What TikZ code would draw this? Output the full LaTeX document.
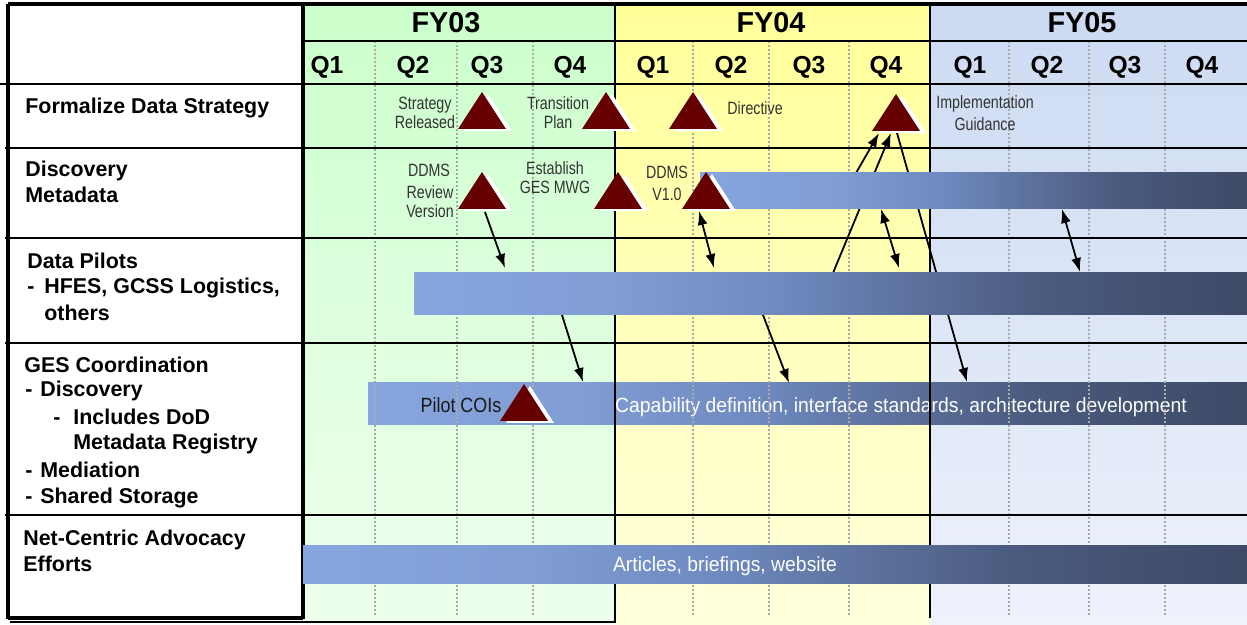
\documentclass[tikz,border=0pt]{standalone}
\usepackage{fontspec}
\setmainfont{Liberation Sans}
\newfontfamily\narrowfont[FakeStretch=0.80]{Liberation Sans}
\newfontfamily\barfont[FakeStretch=0.94]{Liberation Sans}
\newfontfamily\coifont[FakeStretch=0.87]{Liberation Sans}
\usetikzlibrary{arrows.meta}

\definecolor{fygreen}{HTML}{CCFFCC}
\definecolor{fygreenlt}{HTML}{EEFFEE}
\definecolor{fyyellow}{HTML}{FFFF99}
\definecolor{fyyellowlt}{HTML}{FFFFDD}
\definecolor{fyblue}{HTML}{CCDAF2}
\definecolor{fybluelt}{HTML}{EEF2FB}
\definecolor{barA}{HTML}{87A5DE}
\definecolor{barB}{HTML}{809DD4}
\definecolor{barC}{HTML}{6E8AC0}
\definecolor{barD}{HTML}{5A6E98}
\definecolor{barE}{HTML}{4A5A7E}
\definecolor{barF}{HTML}{3E4A66}
\definecolor{milered}{HTML}{660000}
\definecolor{gridgray}{HTML}{AAAAAA}
\definecolor{labelgray}{HTML}{333333}

\pgfdeclarehorizontalshading{barshade}{100bp}{color(0bp)=(barA); color(25bp)=(barA); color(37bp)=(barB); color(47bp)=(barC); color(56bp)=(barD); color(63bp)=(barE); color(75bp)=(barF); color(100bp)=(barF)}

\begin{document}
\begin{tikzpicture}[x=0.5pt,y=-0.5pt,
  rowline/.style={line width=0.8pt},
  frame/.style={line width=1.6pt},
  qline/.style={gridgray,line width=1pt,dash pattern=on 1pt off 1pt},
  arr/.style={line width=0.9pt,-{Latex[length=7pt,width=5pt]}},
  darr/.style={line width=0.9pt,{Latex[length=7pt,width=5pt]}-{Latex[length=7pt,width=5pt]}},
  fy/.style={anchor=base,inner sep=0pt,font=\fontsize{14.4}{16}\selectfont\bfseries},
  qtr/.style={anchor=base,inner sep=0pt,font=\fontsize{12.3}{14}\selectfont\bfseries},
  rowlabel/.style={anchor=base west,inner sep=0pt,font=\fontsize{10.7}{13}\selectfont\bfseries},
  mlabel/.style={anchor=base,inner sep=0pt,text=labelgray,font=\narrowfont\fontsize{8.9}{10}\selectfont},
  bartext/.style={anchor=base,inner sep=0pt,text=white,font=\barfont\fontsize{10.3}{12}\selectfont},
  mstone/.pic={
    \fill[white] (-18,2) -- (6,-35) -- (30,2) -- cycle;
    \fill[milered] (-24,0) -- (0,-37) -- (24,0) -- cycle;
  }]
\useasboundingbox (0,0) rectangle (1247,625);

% fiscal year columns
\shade[top color=fygreen,bottom color=fygreenlt] (303,5) rectangle (615,623);
\shade[top color=fyyellow,bottom color=fyyellowlt] (615,5) rectangle (930,625);
\shade[top color=fyblue,bottom color=fybluelt] (930,5) rectangle (1247,625);

% GES bar sits under the grid
\shade[shading=barshade] (368,383) rectangle (1247,425);
\node[bartext] (capab) at (901,413) {Capability definition, interface standards, architecture development};

% quarter lines
\draw[qline] (375,41) -- (375,617);
\draw[qline] (457,41) -- (457,617);
\draw[qline] (533,41) -- (533,617);
\draw[qline] (693,41) -- (693,617);
\draw[qline] (769,41) -- (769,617);
\draw[qline] (849,41) -- (849,617);
\draw[qline] (1009,41) -- (1009,617);
\draw[qline] (1089,41) -- (1089,617);
\draw[qline] (1165,41) -- (1165,617);

% rows
\draw[rowline] (303,41) -- (1247,41);
\draw[rowline] (0,84) -- (1247,84);
\draw[rowline] (5,148) -- (1247,148);
\draw[rowline] (5,238) -- (1247,238);
\draw[rowline] (5,343) -- (1247,343);
\draw[rowline] (5,515) -- (1247,515);

% frame
\draw[frame] (8,4) -- (1247,4);
\draw[frame] (8,4) -- (8,619);
\draw[frame] (8,618) -- (303,618);
\draw[frame] (303,4) -- (303,619);
\draw[line width=1.2pt] (615,4) -- (615,623);
\draw[line width=1pt] (930,4) -- (930,618);
\draw[line width=1pt] (10,622) -- (616,622);

% connectors
\coordinate (rvbot) at (485,212);
\coordinate (pilA) at (505,268);
\coordinate (pilB) at (562,315);
\coordinate (gesA) at (583,382);
\coordinate (v1bot) at (699,211);
\coordinate (pilC) at (714,268);
\coordinate (discA) at (881,209);
\coordinate (pilD) at (899,268);
\coordinate (pilE) at (833,273);
\coordinate (impA) at (891,133);
\coordinate (discB) at (856,173);
\coordinate (impB) at (879,133);
\coordinate (impC) at (897,133);
\coordinate (gesB) at (967,382);
\coordinate (pilF) at (763,315);
\coordinate (gesC) at (789,383);
\coordinate (discC) at (1062,209);
\coordinate (pilG) at (1080,272);
\draw[arr] (rvbot) -- (pilA);
\draw[arr] (pilB) -- (gesA);
\draw[darr] (v1bot) -- (pilC);
\draw[darr] (discA) -- (pilD);
\draw[arr] (pilE) -- (impA);
\draw[arr] (discB) -- (impB);
\draw[arr] (impC) -- (gesB);
\draw[arr] (pilF) -- (gesC);
\draw[darr] (discC) -- (pilG);

% bars
\shade[shading=barshade] (700,173) rectangle (1247,209);
\shade[shading=barshade] (414,273) rectangle (1247,315);
\shade[shading=barshade] (303,545) rectangle (1247,583);
\node[bartext] (artic) at (725,571) {Articles, briefings, website};

% milestones
\pic at (482,129) {mstone};
\pic at (606,129) {mstone};
\pic at (693,129) {mstone};
\pic at (896,131) {mstone};
\pic at (482,209) {mstone};
\pic at (618,209) {mstone};
\pic at (706,209) {mstone};
\pic at (524,421) {mstone};

% header
\node[fy] (fy03) at (446,33) {FY03};
\node[fy] (fy04) at (771,33) {FY04};
\node[fy] (fy05) at (1082,33) {FY05};
\node[qtr] (q1a) at (327,74) {Q1};
\node[qtr] (q2a) at (413,74) {Q2};
\node[qtr] (q3a) at (487,74) {Q3};
\node[qtr] (q4a) at (570,74) {Q4};
\node[qtr] (q1b) at (653,74) {Q1};
\node[qtr] (q2b) at (731,74) {Q2};
\node[qtr] (q3b) at (809,74) {Q3};
\node[qtr] (q4b) at (886,74) {Q4};
\node[qtr] (q1c) at (970,74) {Q1};
\node[qtr] (q2c) at (1047,74) {Q2};
\node[qtr] (q3c) at (1125,74) {Q3};
\node[qtr] (q4c) at (1202,74) {Q4};

% row labels
\node[rowlabel] (form) at (25,114) {Formalize Data Strategy};
\node[rowlabel] (disc1) at (25,177) {Discovery};
\node[rowlabel] (disc2) at (25,203) {Metadata};
\node[rowlabel] (pil1) at (27,269) {Data Pilots};
\node[rowlabel] (pil2) at (27,294) {\makebox[8.5pt][l]{-}HFES, GCSS Logistics,};
\node[rowlabel] (pil3) at (44,321) {others};
\node[rowlabel] (ges1) at (24,372) {GES Coordination};
\node[rowlabel] (ges2) at (25,397) {\makebox[7.5pt][l]{-}Discovery};
\node[rowlabel] (ges3) at (53,424) {\makebox[10pt][l]{-}Includes DoD};
\node[rowlabel] (ges4) at (73,450) {Metadata Registry};
\node[rowlabel] (ges5) at (25,477) {\makebox[7.5pt][l]{-}Mediation};
\node[rowlabel] (ges6) at (25,503) {\makebox[7.5pt][l]{-}Shared Storage};
\node[rowlabel] (net1) at (23,545) {Net-Centric Advocacy};
\node[rowlabel] (net2) at (23,571) {Efforts};

% milestone labels
\node[mlabel] (strat1) at (425,110) {Strategy};
\node[mlabel] (strat2) at (425,129) {Released};
\node[mlabel] (trans1) at (558,110) {Transition};
\node[mlabel] (trans2) at (558,129) {Plan};
\node[mlabel] (direc) at (755,115) {Directive};
\node[mlabel] (impl1) at (985,109) {Implementation};
\node[mlabel] (impl2) at (985,131) {Guidance};
\node[mlabel] (rev1) at (429,177) {DDMS};
\node[mlabel] (rev2) at (430,199) {Review};
\node[mlabel] (rev3) at (430,218) {Version};
\node[mlabel] (mwg1) at (555,175) {Establish};
\node[mlabel] (mwg2) at (555,194) {GES MWG};
\node[mlabel] (v1a) at (667,179) {DDMS};
\node[mlabel] (v1b) at (667,201) {V1.0};
\node[bartext,text=black!90,font=\coifont\fontsize{10.3}{12}\selectfont] (coi) at (461,413) {Pilot COIs};
\end{tikzpicture}
\end{document}
